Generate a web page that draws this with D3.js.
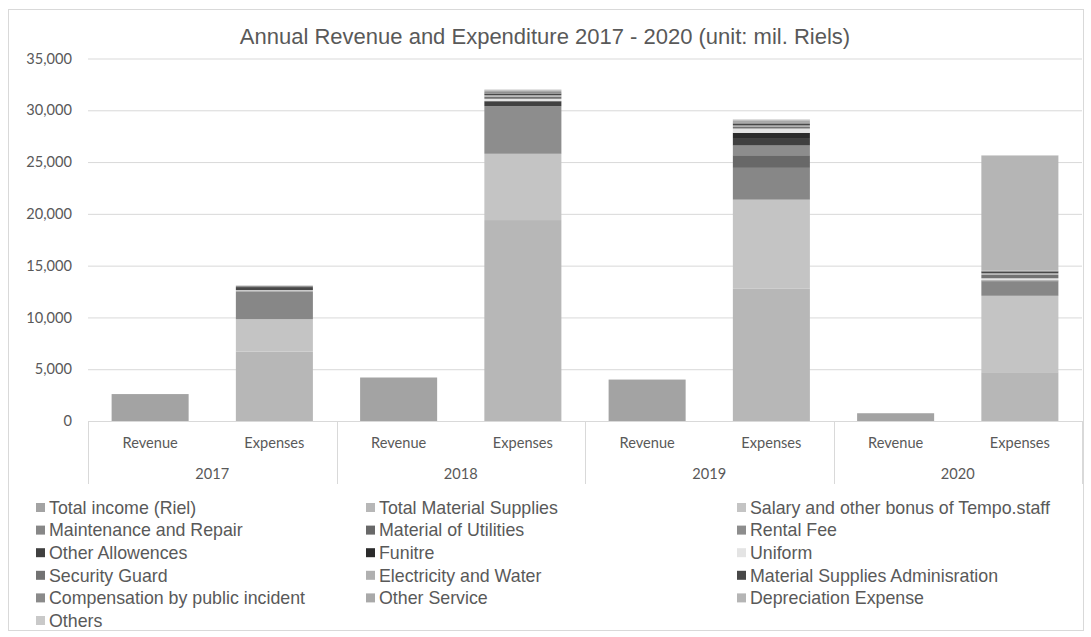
<!DOCTYPE html>
<html>
<head>
<meta charset="utf-8">
<script src="https://cdn.jsdelivr.net/npm/d3@7"></script>
<style>
  html, body { margin: 0; padding: 0; background: #fff; }
  svg { display: block; }
</style>
</head>
<body>
<svg id="chart" width="1091" height="637"></svg>
<script>
// Categories: each year has a Revenue bar and an Expenses bar
const years = ["2017", "2018", "2019", "2020"];
const kinds = ["Revenue", "Expenses"];

// Values in million Riels, one entry per bar: [2017 Rev, 2017 Exp, 2018 Rev, 2018 Exp, ...]
const totalIncome          = [2600, 0, 4200, 0, 4000, 0, 750, 0];
const totalMaterial        = [0, 6700, 0, 19400, 0, 12770, 0, 4710];
const salaryBonus          = [0, 3130, 0, 6400, 0, 8600, 0, 7380];
const maintenanceRepair    = [0, 2700, 0, 0, 0, 3070, 0, 1390];
const materialUtilities    = [0, 0, 0, 0, 0, 1220, 0, 100];
const rentalFee            = [0, 0, 0, 4600, 0, 940, 0, 0];
const otherAllowances      = [0, 0, 0, 480, 0, 640, 0, 0];
const furniture            = [0, 0, 0, 0, 0, 580, 0, 0];
const uniform              = [0, 100, 0, 230, 0, 420, 0, 200];
const securityGuard        = [0, 0, 0, 200, 0, 150, 0, 330];
const electricityWater     = [0, 0, 0, 150, 0, 150, 0, 160];
const materialAdmin        = [0, 300, 0, 150, 0, 150, 0, 180];
const compensation         = [0, 100, 0, 150, 0, 150, 0, 0];
const otherService         = [0, 0, 0, 150, 0, 150, 0, 60];
const depreciation         = [0, 0, 0, 50, 0, 100, 0, 11100];
const others               = [0, 70, 0, 50, 0, 40, 0, 60];

const seriesNames = [
  "Total income (Riel)", "Total Material Supplies", "Salary and other bonus of Tempo.staff",
  "Maintenance and Repair", "Material of Utilities", "Rental Fee",
  "Other Allowences", "Funitre", "Uniform",
  "Security Guard", "Electricity and Water", "Material Supplies Adminisration",
  "Compensation by public incident", "Other Service", "Depreciation Expense",
  "Others"
];
const seriesValues = [
  totalIncome, totalMaterial, salaryBonus,
  maintenanceRepair, materialUtilities, rentalFee,
  otherAllowances, furniture, uniform,
  securityGuard, electricityWater, materialAdmin,
  compensation, otherService, depreciation,
  others
];
const seriesColors = [
  "#a3a3a3", "#b7b7b7", "#c4c4c4",
  "#878787", "#686868", "#8d8d8d",
  "#404040", "#2b2b2b", "#e4e4e4",
  "#727272", "#b0b0b0", "#484848",
  "#8a8a8a", "#a9a9a9", "#b5b5b5",
  "#c9c9c9"
];

const yTicks = [0, 5000, 10000, 15000, 20000, 25000, 30000, 35000];

// Build row table for the stack
const barKeys = [];
years.forEach(y => kinds.forEach(k => barKeys.push(y + "|" + k)));
const rows = barKeys.map((key, i) => {
  const r = { key };
  seriesNames.forEach((s, j) => { r[s] = seriesValues[j][i]; });
  return r;
});

const svg = d3.select("#chart");
const textColor = "#595959";
const gridColor = "#d9d9d9";
const axisFont = "Lato, 'Open Sans', sans-serif";
const labelFont = "'Liberation Sans', Arial, sans-serif";

// Chart frame
svg.append("rect")
  .attr("x", 8.5).attr("y", 9.5)
  .attr("width", 1075).attr("height", 621)
  .attr("fill", "#fff").attr("stroke", "#d9d9d9").attr("stroke-width", 1);

const plot = { left: 88, right: 1082, top: 58.5, bottom: 421 };

const x = d3.scaleBand()
  .domain(barKeys)
  .range([plot.left, plot.right])
  .paddingInner(0.38)
  .paddingOuter(0.19);

const y = d3.scaleLinear()
  .domain([0, 35000])
  .range([plot.bottom, plot.top]);

// Title
svg.append("text")
  .attr("x", 545).attr("y", 44)
  .attr("text-anchor", "middle")
  .attr("font-family", labelFont)
  .attr("font-size", 22)
  .attr("fill", textColor)
  .text("Annual Revenue and Expenditure 2017 - 2020 (unit: mil. Riels)");

// Gridlines and value axis labels
const yAxis = d3.axisLeft(y)
  .tickValues(yTicks)
  .tickSize(-(plot.right - plot.left))
  .tickPadding(16)
  .tickFormat(d3.format(","));

const gy = svg.append("g")
  .attr("transform", `translate(${plot.left},0)`)
  .call(yAxis);
gy.select(".domain").remove();
gy.selectAll(".tick line").attr("stroke", gridColor).attr("stroke-width", 1);
gy.selectAll(".tick text")
  .attr("fill", textColor)
  .attr("font-family", axisFont)
  .attr("font-size", 14.6);

// Stacked bars
const stack = d3.stack().keys(seriesNames);
const layers = stack(rows);

svg.append("g")
  .selectAll("g")
  .data(layers)
  .join("g")
  .attr("fill", (d, i) => seriesColors[i])
  .selectAll("rect")
  .data(d => d.filter(p => p[1] - p[0] > 0))
  .join("rect")
  .attr("x", d => x(d.data.key))
  .attr("width", x.bandwidth())
  .attr("y", d => y(d[1]))
  .attr("height", d => y(d[0]) - y(d[1]));

// Category axis line
svg.append("line")
  .attr("x1", plot.left).attr("x2", plot.right)
  .attr("y1", plot.bottom + 0.5).attr("y2", plot.bottom + 0.5)
  .attr("stroke", gridColor);

// Group dividers between years
const groupWidth = (plot.right - plot.left) / years.length;
d3.range(years.length + 1).forEach(i => {
  const gx = Math.round(plot.left + i * groupWidth) + 0.5;
  svg.append("line")
    .attr("x1", gx).attr("x2", gx)
    .attr("y1", plot.bottom).attr("y2", 484)
    .attr("stroke", gridColor);
});

// Bar-level labels
svg.append("g")
  .selectAll("text")
  .data(barKeys)
  .join("text")
  .attr("x", d => x(d) + x.bandwidth() / 2)
  .attr("y", 448)
  .attr("text-anchor", "middle")
  .attr("font-family", axisFont)
  .attr("font-size", 14.6)
  .attr("fill", textColor)
  .text(d => d.split("|")[1]);

// Year labels
svg.append("g")
  .selectAll("text")
  .data(years)
  .join("text")
  .attr("x", (d, i) => plot.left + (i + 0.5) * groupWidth)
  .attr("y", 479)
  .attr("text-anchor", "middle")
  .attr("font-family", axisFont)
  .attr("font-size", 14.6)
  .attr("fill", textColor)
  .text(d => d);

// Legend: three columns, filled row by row
const legendCols = [36, 366, 737];
const legendRow0 = 507.5;
const legendRowStep = 22.6;
const legend = svg.append("g")
  .selectAll("g")
  .data(seriesNames)
  .join("g")
  .attr("transform", (d, i) =>
    `translate(${legendCols[i % 3]},${legendRow0 + Math.floor(i / 3) * legendRowStep})`);

legend.append("rect")
  .attr("x", 0).attr("y", -4.5)
  .attr("width", 9).attr("height", 9)
  .attr("fill", (d, i) => seriesColors[i]);

legend.append("text")
  .attr("x", 13).attr("y", 6.2)
  .attr("font-family", labelFont)
  .attr("font-size", 17.8)
  .attr("fill", textColor)
  .text(d => d);
</script>
</body>
</html>
